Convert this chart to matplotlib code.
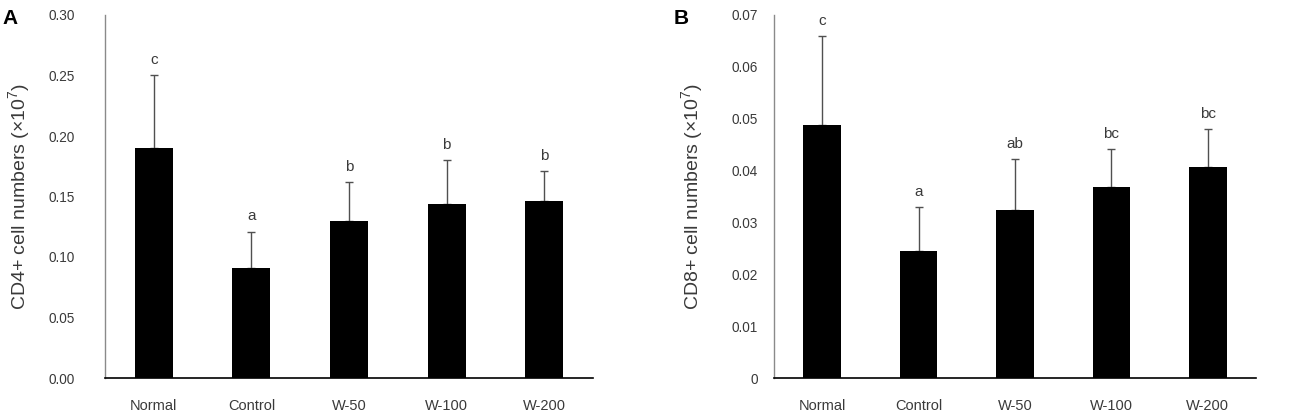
import matplotlib
matplotlib.use("Agg")
import matplotlib.pyplot as plt
import numpy as np
from matplotlib.ticker import MultipleLocator, FuncFormatter

plt.rcParams['font.family'] = ['Liberation Sans', 'DejaVu Sans']
plt.rcParams['mathtext.fontset'] = 'custom'
plt.rcParams['mathtext.rm'] = 'Liberation Sans'
plt.rcParams['mathtext.it'] = 'Liberation Sans:italic'

categories = ['Normal', 'Control', 'W-50', 'W-100', 'W-200']

cd4_mean = [0.190, 0.091, 0.130, 0.144, 0.146]
cd4_sd = [0.060, 0.030, 0.032, 0.036, 0.025]
cd4_letters = ['c', 'a', 'b', 'b', 'b']

cd8_mean = [0.0488, 0.0245, 0.0324, 0.0368, 0.0406]
cd8_sd = [0.0171, 0.0084, 0.0098, 0.0074, 0.0074]
cd8_letters = ['c', 'a', 'ab', 'bc', 'bc']

W, H = 1309, 415
fig = plt.figure(figsize=(W / 100, H / 100), dpi=100)

text_col = '#3a3a3a'

def panel(rect, means, sds, letters, ylim, step, fmt, ylabel, tag, tag_xy, ylab_x, tick_pad):
    ax = fig.add_axes(rect)
    x = np.arange(len(categories))
    ax.bar(x, means, width=0.39, color='black', zorder=2)
    ax.errorbar(x, means, yerr=[np.zeros(len(sds)), sds], fmt='none',
                ecolor='#505050', elinewidth=1.0, capsize=2.6, capthick=1.0, zorder=1)
    for xi, m, s, lab in zip(x, means, sds, letters):
        ax.annotate(lab, (xi, m + s), xytext=(0, 8.0), textcoords='offset points',
                    ha='center', va='baseline', fontsize=11, color=text_col)
    ax.set_xlim(-0.5, len(categories) - 0.5)
    ax.set_ylim(*ylim)
    ax.yaxis.set_major_locator(MultipleLocator(step))
    ax.yaxis.set_major_formatter(FuncFormatter(fmt))
    ax.set_xticks(x)
    ax.set_xticklabels(categories)
    ax.tick_params(axis='x', length=0, pad=15, labelsize=10.5, colors=text_col)
    ax.tick_params(axis='y', length=0, pad=tick_pad, labelsize=9.8, colors=text_col)
    for s in ['top', 'right']:
        ax.spines[s].set_visible(False)
    ax.spines['left'].set_color('#8a8a8a')
    ax.spines['left'].set_linewidth(1.0)
    ax.spines['bottom'].set_color('black')
    ax.spines['bottom'].set_linewidth(1.2)
    ax.set_ylabel(ylabel, fontsize=14, color=text_col)
    ax.yaxis.set_label_coords(ylab_x, rect[1] + rect[3] / 2, transform=fig.transFigure)
    fig.text(tag_xy[0], tag_xy[1], tag, fontsize=15, fontweight='bold', color='black',
             ha='left', va='center')
    return ax

bottom = 1 - 378 / H
top = 1 - 15 / H

panel([105 / W, bottom, (593 - 105) / W, top - bottom], cd4_mean, cd4_sd, cd4_letters,
      (0, 0.30), 0.05, lambda v, p: f"{v:.2f}",
      r'CD4+ cell numbers (×10$^{7}$)', 'A', (2 / W, 1 - 18 / H), 32 / W, 22)

panel([774 / W, bottom, (1256 - 774) / W, top - bottom], cd8_mean, cd8_sd, cd8_letters,
      (0, 0.07), 0.01, lambda v, p: "0" if abs(v) < 1e-9 else f"{v:.2f}",
      r'CD8+ cell numbers (×10$^{7}$)', 'B', (674 / W, 1 - 18 / H), 705 / W, 11.5)

fig.savefig('out.png', dpi=100)
